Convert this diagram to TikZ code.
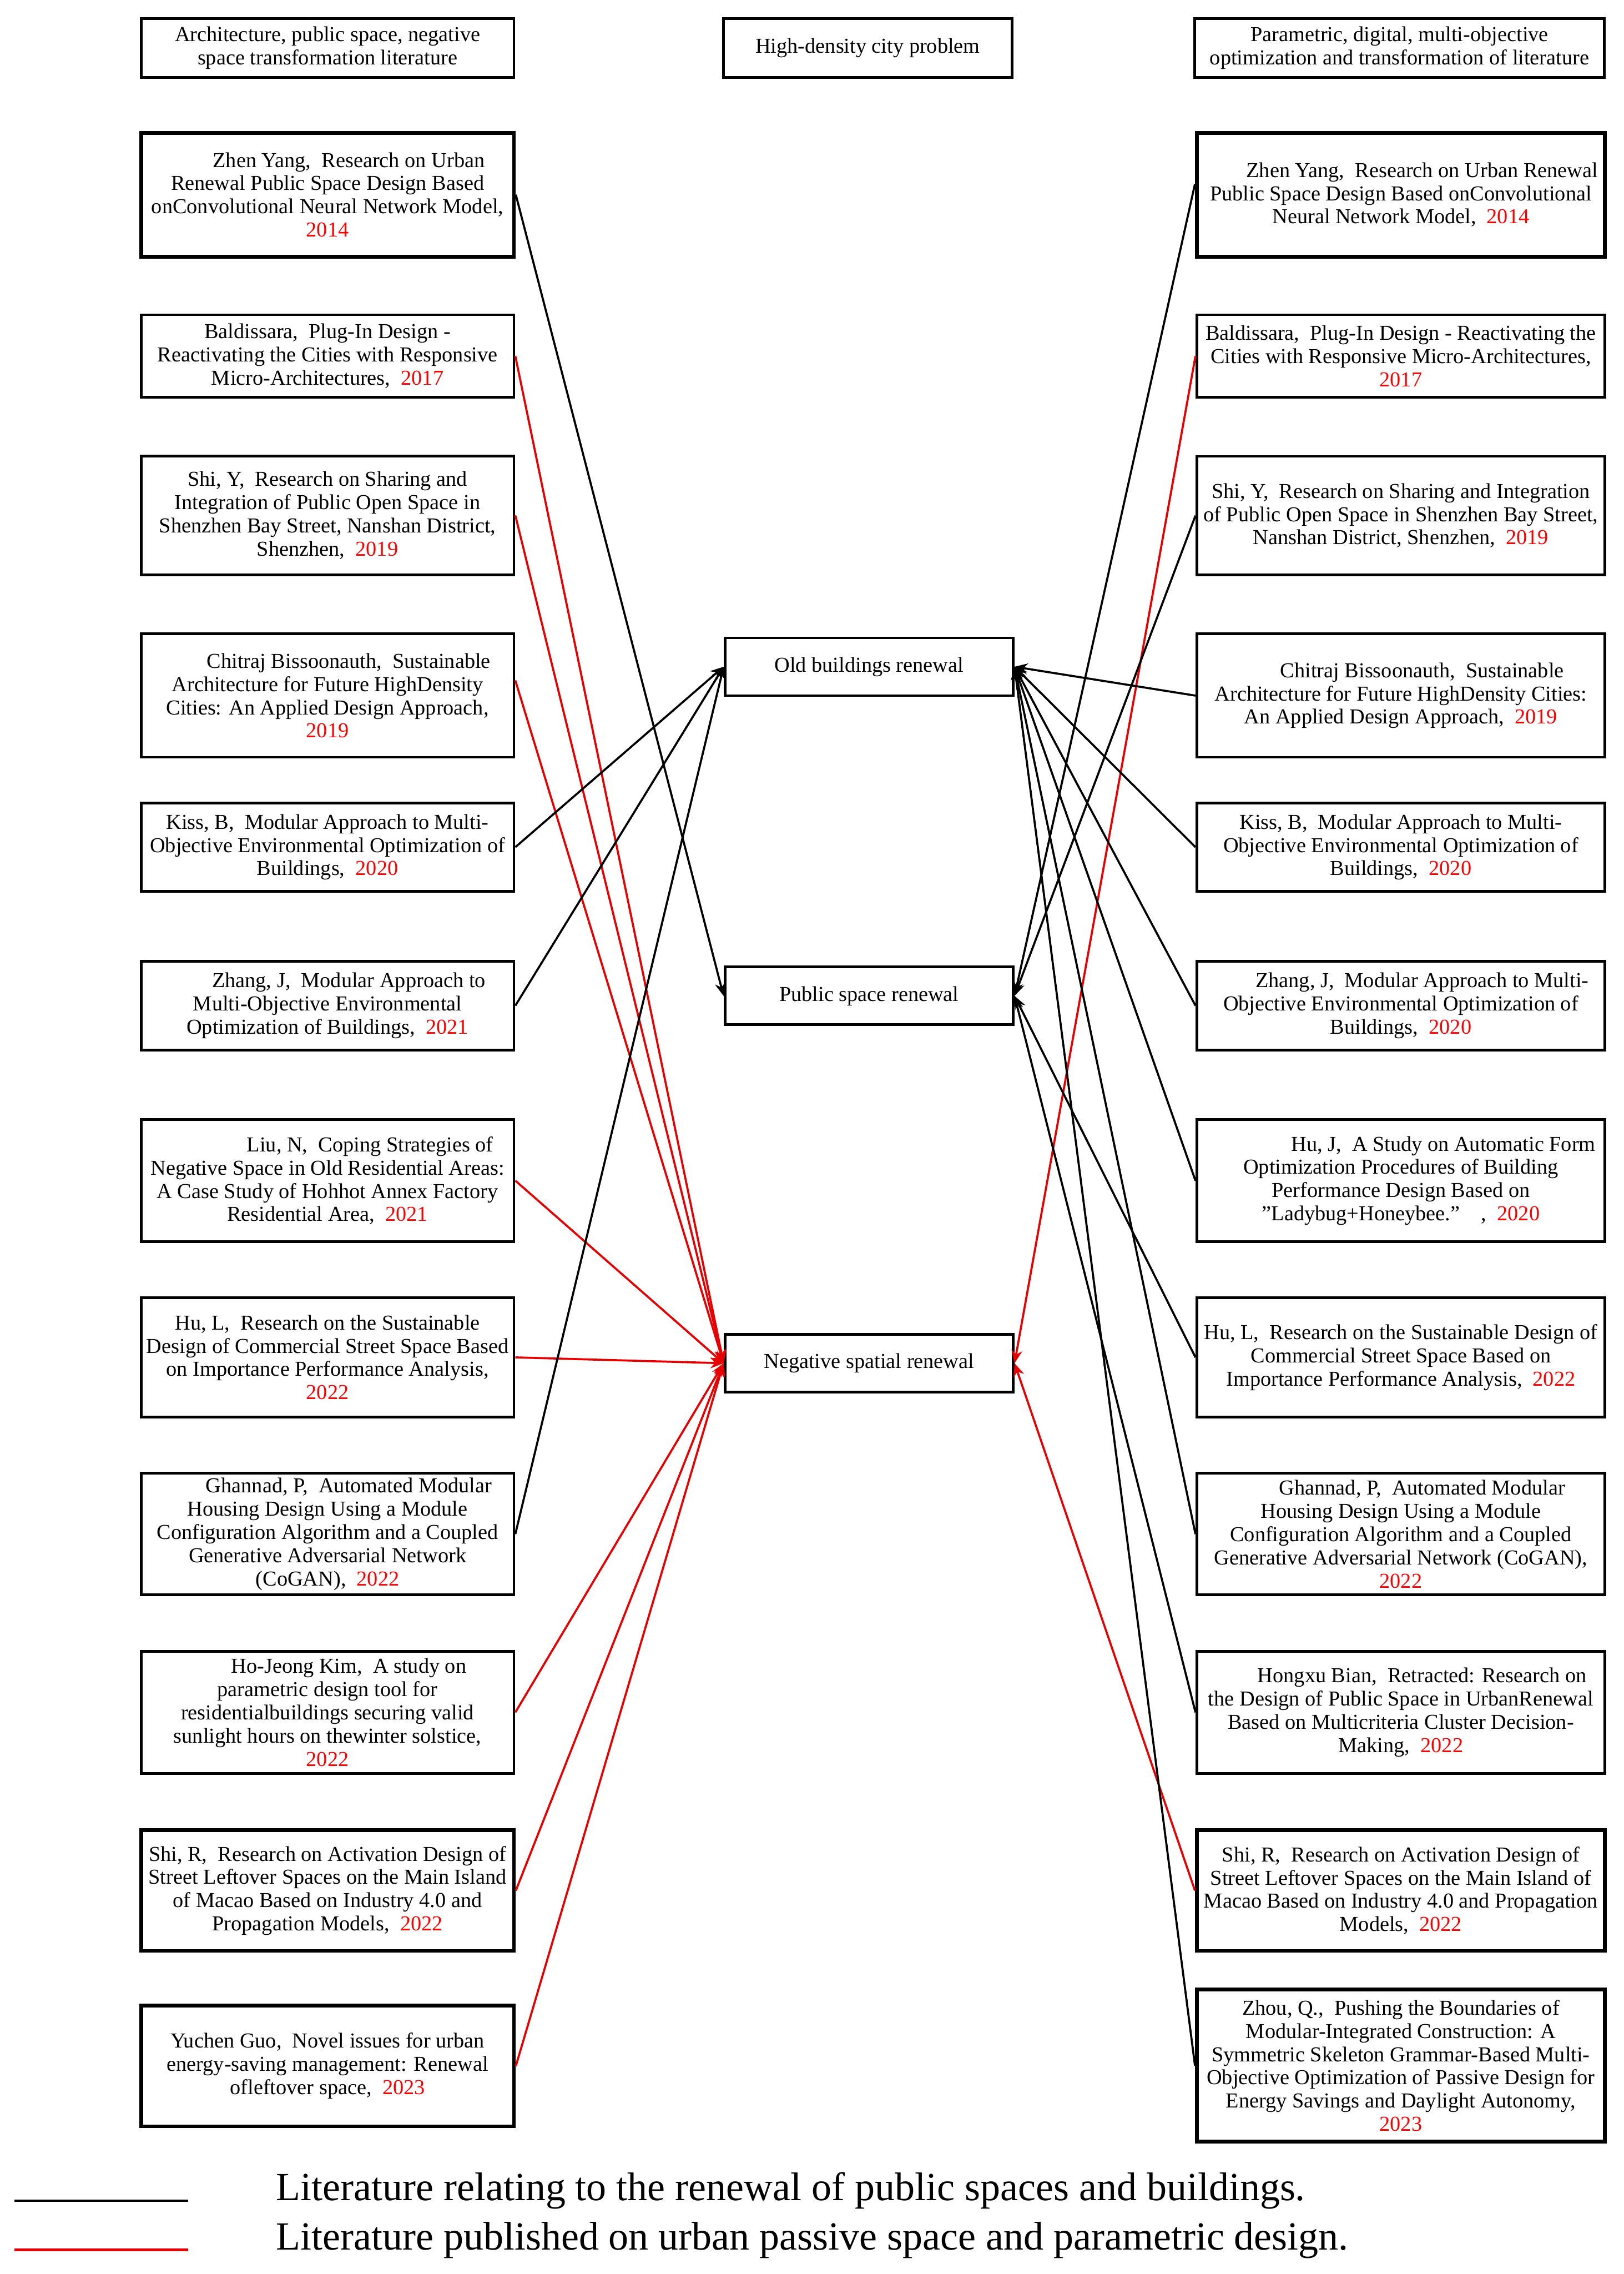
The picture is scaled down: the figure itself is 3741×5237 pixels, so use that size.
\documentclass[tikz,border=0pt]{standalone}
\usepackage{fontspec}
\setmainfont{Liberation Serif}
\usetikzlibrary{arrows.meta,fit}
\definecolor{rdc}{RGB}{232,0,0}
\definecolor{yrc}{RGB}{255,0,0}
\newcommand\fc{,\hspace{0.5em}}
\newcommand\yr[1]{\textcolor{yrc}{#1}}
% #1 style, #2 name, #3 fit corners, #4 text
\newcommand\bx[4][box]{%
  \node[#1, fit={#3}] (#2) {};
  \node[txt] (#2t) at (#2.center) {#4};}
\begin{document}
\begin{tikzpicture}[x=0.2pt,y=-0.2pt,
  box/.style={draw=black, line width=1.25pt, inner sep=0pt},
  thickbox/.style={box, line width=1.7pt},
  txt/.style={inner sep=0pt, align=center, anchor=center,
    font=\fontsize{9.8}{10.7}\selectfont},
  blk/.style={draw=black, line width=0.95pt, -{Stealth[length=6pt,width=5pt]}},
  rdl/.style={draw=rdc, line width=0.95pt, -{Stealth[length=6pt,width=5pt]}},
  legtext/.style={anchor=base west, inner sep=0pt, font=\fontsize{18.4}{20}\selectfont}]
\useasboundingbox (0,0) rectangle (3741,5237);
\fill[white] (0,0) rectangle (3741,5237);

% headers
\bx{HL}{(325,43) (1184,178)}{Architecture, public space, negative\\space transformation literature}
\bx{HM}{(1667,43) (2331,178)}{High-density city problem}
\bx{HR}{(2752,43) (3696,178)}{Parametric, digital, multi-objective\\optimization and transformation of literature}

% middle
\bx{OB}{(1670,1469) (2334,1602)}{Old buildings renewal}
\bx{PS}{(1670,2227) (2334,2360)}{Public space renewal}
\bx{NS}{(1670,3073) (2334,3206)}{Negative spatial renewal}

% left column
\bx[thickbox]{L1}{(325,306) (1184,591)}{\hspace*{2em}Zhen Yang\fc Research on Urban\\Renewal Public Space Design Based\\onConvolutional Neural Network Model,\\\yr{2014}}
\bx{L2}{(325,725) (1184,915)}{Baldissara\fc Plug-In Design -\\Reactivating the Cities with Responsive\\Micro-Architectures\fc\yr{2017}}
\bx{L3}{(325,1050) (1184,1324)}{Shi, Y\fc Research on Sharing and\\Integration of Public Open Space in\\Shenzhen Bay Street, Nanshan District,\\Shenzhen\fc\yr{2019}}
\bx{L4}{(325,1460) (1184,1744)}{\hspace*{2em}Chitraj Bissoonauth\fc Sustainable\\Architecture for Future HighDensity\\Cities: An Applied Design Approach,\\\yr{2019}}
\bx{L5}{(325,1849) (1184,2053)}{Kiss, B\fc Modular Approach to Multi-\\Objective Environmental Optimization of\\Buildings\fc\yr{2020}}
\bx{L6}{(325,2214) (1184,2418)}{\hspace*{2em}Zhang, J\fc Modular Approach to\\Multi-Objective Environmental\\Optimization of Buildings\fc\yr{2021}}
\bx{L7}{(325,2578) (1184,2860)}{\hspace*{4em}Liu, N\fc Coping Strategies of\\Negative Space in Old Residential Areas:\\A Case Study of Hohhot Annex Factory\\Residential Area\fc\yr{2021}}
\bx{L8}{(325,2989) (1184,3263)}{Hu, L\fc Research on the Sustainable\\Design of Commercial Street Space Based\\on Importance Performance Analysis,\\\yr{2022}}
\bx{L9}{(325,3393) (1184,3673)}{\hspace*{2em}Ghannad, P\fc Automated Modular\\Housing Design Using a Module\\Configuration Algorithm and a Coupled\\Generative Adversarial Network\\(CoGAN)\fc\yr{2022}}
\bx{L10}{(325,3803) (1184,4084)}{\hspace*{2em}Ho-Jeong Kim\fc A study on\\parametric design tool for\\residentialbuildings securing valid\\sunlight hours on thewinter solstice,\\\yr{2022}}
\bx[thickbox]{L11}{(325,4215) (1184,4493)}{Shi, R\fc Research on Activation Design of\\Street Leftover Spaces on the Main Island\\of Macao Based on Industry 4.0 and\\Propagation Models\fc\yr{2022}}
\bx[thickbox]{L12}{(325,4619) (1184,4897)}{Yuchen Guo\fc Novel issues for urban\\energy-saving management: Renewal\\ofleftover space\fc\yr{2023}}

% right column
\bx[thickbox]{R1}{(2757,306) (3697,591)}{\hspace*{2em}Zhen Yang\fc Research on Urban Renewal\\Public Space Design Based onConvolutional\\Neural Network Model\fc\yr{2014}}
\bx{R2}{(2757,725) (3697,915)}{Baldissara\fc Plug-In Design - Reactivating the\\Cities with Responsive Micro-Architectures,\\\yr{2017}}
\bx{R3}{(2757,1051) (3697,1324)}{Shi, Y\fc Research on Sharing and Integration\\of Public Open Space in Shenzhen Bay Street,\\Nanshan District, Shenzhen\fc\yr{2019}}
\bx{R4}{(2757,1460) (3697,1744)}{\hspace*{2em}Chitraj Bissoonauth\fc Sustainable\\Architecture for Future HighDensity Cities:\\An Applied Design Approach\fc\yr{2019}}
\bx{R5}{(2757,1849) (3697,2053)}{Kiss, B\fc Modular Approach to Multi-\\Objective Environmental Optimization of\\Buildings\fc\yr{2020}}
\bx{R6}{(2757,2214) (3697,2418)}{\hspace*{2em}Zhang, J\fc Modular Approach to Multi-\\Objective Environmental Optimization of\\Buildings\fc\yr{2020}}
\bx{R7}{(2757,2578) (3697,2860)}{\hspace*{4em}Hu, J\fc A Study on Automatic Form\\Optimization Procedures of Building\\Performance Design Based on\\”Ladybug+Honeybee.”\quad\fc\yr{2020}}
\bx{R8}{(2757,2989) (3697,3263)}{Hu, L\fc Research on the Sustainable Design of\\Commercial Street Space Based on\\Importance Performance Analysis\fc\yr{2022}}
\bx{R9}{(2757,3393) (3697,3673)}{\hspace*{2em}Ghannad, P\fc Automated Modular\\Housing Design Using a Module\\Configuration Algorithm and a Coupled\\Generative Adversarial Network (CoGAN),\\\yr{2022}}
\bx{R10}{(2757,3803) (3697,4084)}{\hspace*{2em}Hongxu Bian\fc Retracted: Research on\\the Design of Public Space in UrbanRenewal\\Based on Multicriteria Cluster Decision-\\Making\fc\yr{2022}}
\bx[thickbox]{R11}{(2757,4215) (3697,4493)}{Shi, R\fc Research on Activation Design of\\Street Leftover Spaces on the Main Island of\\Macao Based on Industry 4.0 and Propagation\\Models\fc\yr{2022}}
\bx[thickbox]{R12}{(2757,4582) (3697,4932)}{Zhou, Q.\fc Pushing the Boundaries of\\Modular-Integrated Construction: A\\Symmetric Skeleton Grammar-Based Multi-\\Objective Optimization of Passive Design for\\Energy Savings and Daylight Autonomy,\\\yr{2023}}

% left connectors
\draw[blk] (L1.east) -- (PS.west);
\draw[rdl] (L2.east) -- (NS.west);
\draw[rdl] (L3.east) -- (NS.west);
\draw[rdl] ([yshift=7pt]L4.east) -- (NS.west);
\draw[blk] (L5.east) -- (OB.west);
\draw[blk] (L6.east) -- (OB.west);
\draw[rdl] (L7.east) -- (NS.west);
\draw[rdl] (L8.east) -- (NS.west);
\draw[blk] (L9.east) -- (OB.west);
\draw[rdl] (L10.east) -- (NS.west);
\draw[rdl] (L11.east) -- (NS.west);
\draw[rdl] (L12.east) -- (NS.west);

% right connectors
\draw[blk] ([yshift=5pt]R1.west) -- (PS.east);
\draw[rdl] (R2.west) -- (NS.east);
\draw[blk] (R3.west) -- (PS.east);
\draw[blk] (R4.west) -- (OB.east);
\draw[blk] (R5.west) -- (OB.east);
\draw[blk] (R6.west) -- (OB.east);
\draw[blk] (R7.west) -- (OB.east);
\draw[blk] (R8.west) -- (PS.east);
\draw[blk] (R9.west) -- (OB.east);
\draw[blk] (R10.west) -- (PS.east);
\draw[rdl] (R11.west) -- (NS.east);
\draw[blk] (R12.west) -- (OB.east);

% legend
\coordinate (k1a) at (33,5068);
\coordinate (k1b) at (434,5068);
\coordinate (k2a) at (33,5181);
\coordinate (k2b) at (434,5181);
\draw[line width=1.2pt] (k1a) -- (k1b);
\draw[draw=rdc, line width=1.2pt] (k2a) -- (k2b);
\node[legtext] (T1) at (635,5068) {Literature relating to the renewal of public spaces and buildings.};
\node[legtext] (T2) at (635,5181) {Literature published on urban passive space and parametric design.};
\end{tikzpicture}
\end{document}
